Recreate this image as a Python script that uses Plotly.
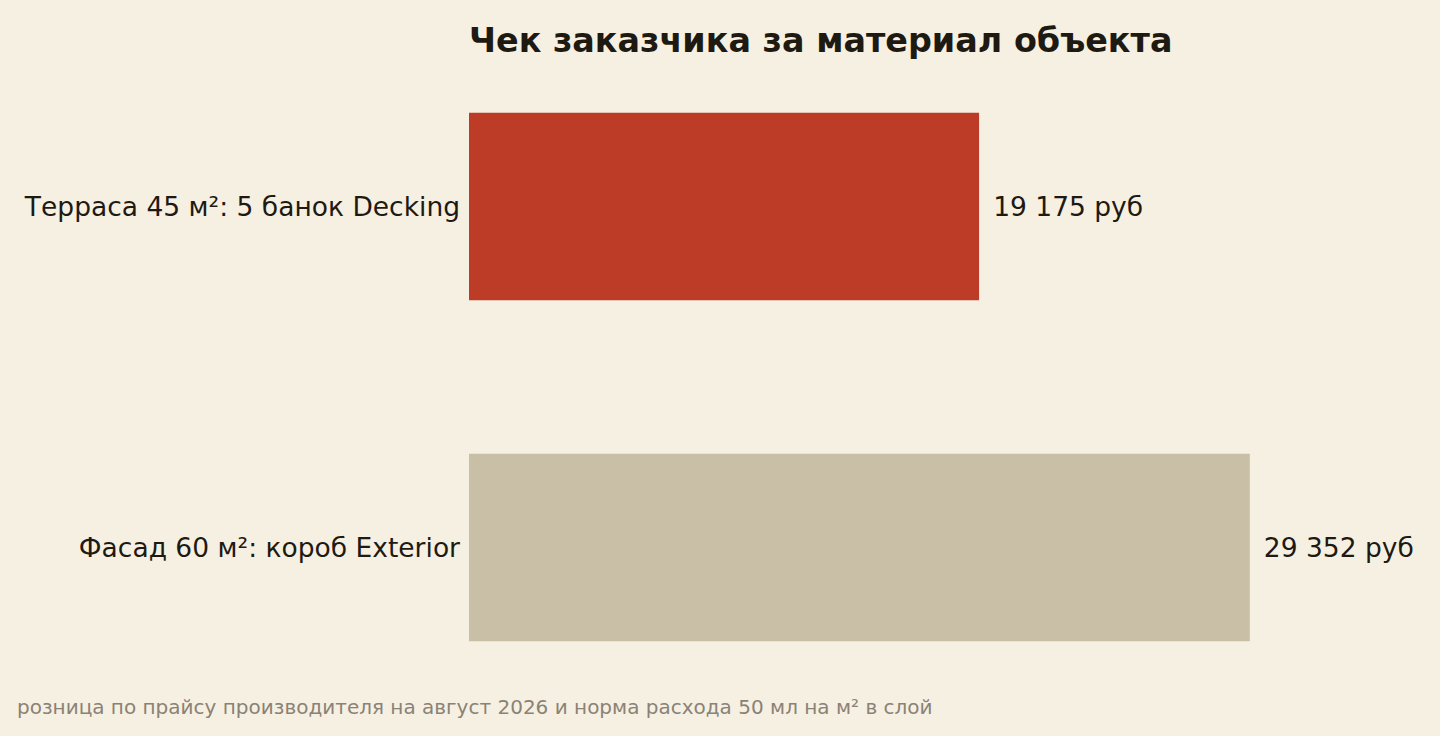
import plotly.graph_objects as go

categories = ["Терраса 45 м²: 5 банок Decking", "Фасад 60 м²: короб Exterior"]
values = [19175, 29352]
value_labels = ["19 175 руб", "29 352 руб"]
bar_colors = ["#BC3C27", "#C9BFA7"]

title_text = "Чек заказчика за материал объекта"
note_text = "розница по прайсу производителя на август 2026 и норма расхода 50 мл на м² в слой"

BG = "#F6F0E3"
INK = "#1E1A12"

fig = go.Figure()
fig.add_trace(go.Bar(
    y=categories, x=values, orientation="h",
    marker=dict(color=bar_colors, line=dict(width=0)),
    text=["\u00a0\u200a" + t for t in value_labels], textposition="outside",
    textfont=dict(family="DejaVu Sans", size=26.5, color=INK),
    cliponaxis=False, width=0.55, hoverinfo="skip",
))

fig.update_layout(
    width=1440, height=736,
    paper_bgcolor=BG, plot_bgcolor=BG,
    margin=dict(l=469, r=20, t=36, b=18),
    font=dict(family="DejaVu Sans", color=INK),
    showlegend=False,
    title=dict(text="<b>" + title_text + "</b>", x=469/1440, xanchor="left",
               y=1 - 40/736, yanchor="middle",
               font=dict(family="DejaVu Sans", size=33.4, color=INK)),
    xaxis=dict(range=[0, 35750], visible=False, showgrid=False, zeroline=False),
    yaxis=dict(autorange="reversed", showgrid=False, zeroline=False, showline=False,
               ticks="", tickfont=dict(family="DejaVu Sans", size=26.5, color=INK),
               ticklabelstandoff=8),
    annotations=[dict(text=note_text, xref="paper", yref="paper",
                      x=-454/951, y=11/682, xanchor="left", yanchor="middle",
                      showarrow=False,
                      font=dict(family="DejaVu Sans", size=20, color="#8A8275"))],
)

fig.write_html("out.html", config={"displayModeBar": False})

with open("out.html", encoding="utf-8") as f:
    html = f.read()
html = html.replace("<head>", "<head><style>html,body{margin:0;padding:0;background:#F6F0E3;overflow:hidden}</style>", 1)
with open("out.html", "w", encoding="utf-8") as f:
    f.write(html)
